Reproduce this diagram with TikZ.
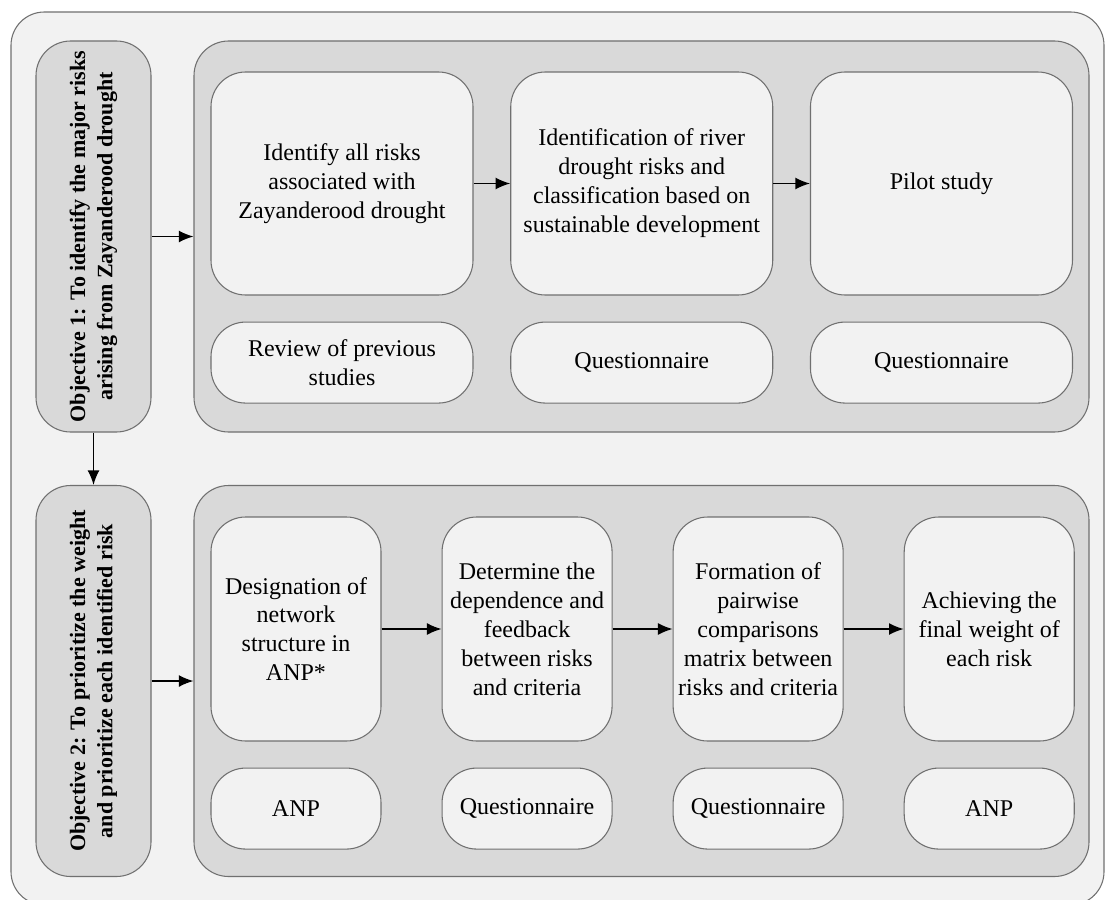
\documentclass[tikz,border=0pt]{standalone}
\usepackage{fontspec}
\setmainfont{Liberation Serif}
\usetikzlibrary{arrows.meta,positioning}
\definecolor{lightfill}{HTML}{F2F2F2}
\definecolor{darkfill}{HTML}{D9D9D9}
\definecolor{edgegray}{HTML}{707070}
\tikzset{>={Latex[length=11pt,width=9pt]}}
\tikzset{
  box/.style={draw=edgegray, line width=0.8pt, rounded corners=26pt},
  panel/.style={box, fill=darkfill, minimum width=671.25pt, minimum height=293.25pt},
  objbox/.style={box, fill=darkfill, rotate=90, minimum width=293.25pt, minimum height=86.25pt,
    align=center, font=\fontsize{16.5}{20.5}\selectfont\bfseries},
  task/.style={box, fill=lightfill, align=center, inner sep=2pt, font=\fontsize{18}{21.7}\selectfont},
  taskwide/.style={task, minimum width=196.5pt, minimum height=167.25pt},
  tasknarrow/.style={task, minimum width=127.5pt, minimum height=168pt},
  toolwide/.style={task, minimum width=196.5pt, minimum height=60.75pt},
  toolnarrow/.style={task, minimum width=127.5pt, minimum height=60.75pt},
  flow/.style={->, line width=1.1pt}
}
\begin{document}
\begin{tikzpicture}[x=0.75pt,y=-0.75pt]
  \useasboundingbox (0,0) rectangle (1105,899);
  \clip (0,0) rectangle (1105,899);
  \draw [box, fill=lightfill, rounded corners=25pt] (11,12) rectangle (1104,905);

  \node [objbox] (obj1) at (93.5,236.5) {Objective 1: To identify the major risks\\arising from Zayanderood drought};
  \node [objbox] (obj2) at (93.5,681) {Objective 2: To prioritize the weight\\and prioritize each identified risk};
  \node [panel] (panel1) at (641.5,236.5) {};
  \node [panel] (panel2) at (641.5,681) {};

  \node [taskwide] (identify) at (342,183.5) {Identify all risks\\associated with\\Zayanderood drought};
  \node [taskwide, right=27.5pt of identify] (classify) {Identification of river\\drought risks and\\classification based on\\sustainable development};
  \node [taskwide, right=27.5pt of classify] (pilot) {Pilot study};
  \node [toolwide, below=19.5pt of identify] (review) {Review of previous\\studies};
  \node [toolwide, below=19.5pt of classify] (quest1) {Questionnaire};
  \node [toolwide, below=19.5pt of pilot] (quest2) {Questionnaire};

  \node [tasknarrow] (network) at (296,629) {Designation of\\network\\structure in\\ANP*};
  \node [tasknarrow, right=45pt of network] (feedback) {Determine the\\dependence and\\feedback\\between risks\\and criteria};
  \node [tasknarrow, right=45pt of feedback] (pairwise) {Formation of\\pairwise\\comparisons\\matrix between\\risks and criteria};
  \node [tasknarrow, right=45pt of pairwise] (weight) {Achieving the\\final weight of\\each risk};
  \node [toolnarrow, below=19.5pt of network] (anp1) {ANP};
  \node [toolnarrow, below=19.5pt of feedback] (quest3) {Questionnaire};
  \node [toolnarrow, below=19.5pt of pairwise] (quest4) {Questionnaire};
  \node [toolnarrow, below=19.5pt of weight] (anp2) {ANP};

  \draw [flow] (obj1) -- (panel1);
  \draw [flow] (obj2) -- (panel2);
  \draw [flow] (obj1.west) -- (obj2.east);
  \draw [flow] (identify) -- (classify);
  \draw [flow] (classify) -- (pilot);
  \draw [flow] (network) -- (feedback);
  \draw [flow] (feedback) -- (pairwise);
  \draw [flow] (pairwise) -- (weight);
\end{tikzpicture}
\end{document}
